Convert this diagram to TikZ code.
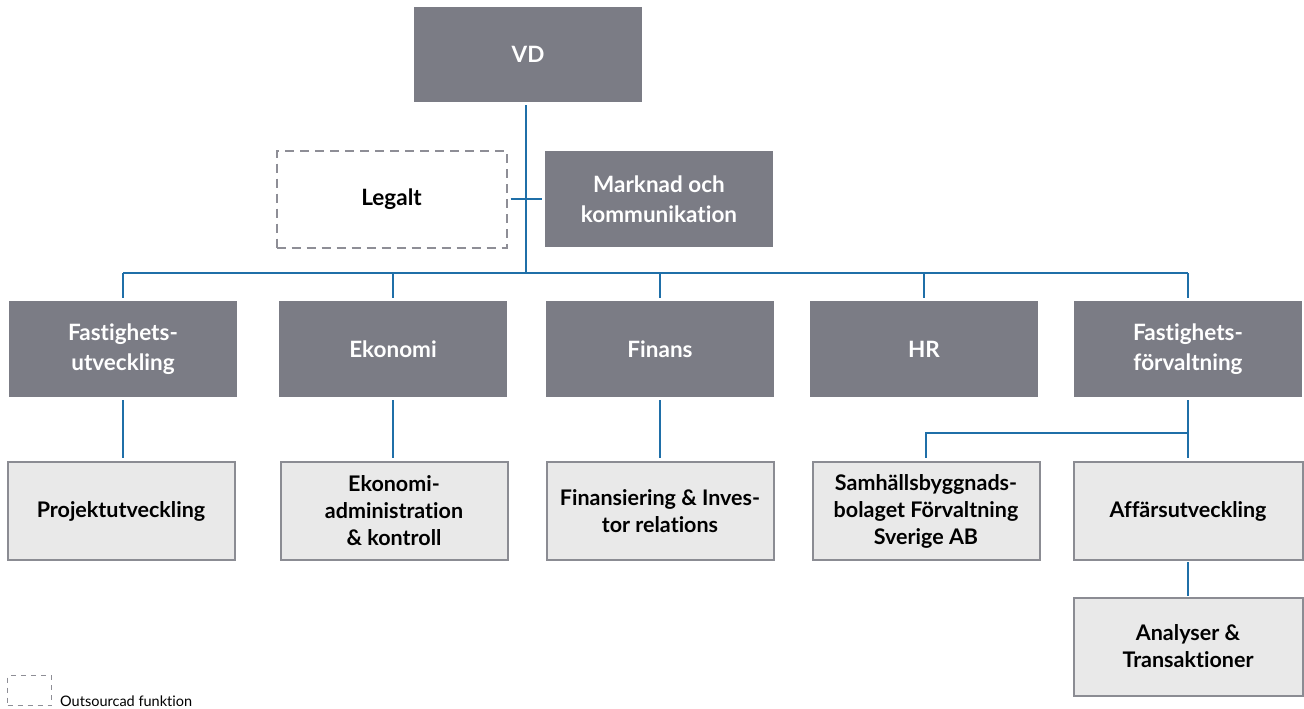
\documentclass[tikz,border=0pt]{standalone}
\usepackage{fontspec}
\setmainfont{Lato}[Ligatures=NoCommon]
\definecolor{boxgray}{HTML}{7B7C85}
\definecolor{lightfill}{HTML}{E9E9E9}
\definecolor{bordergray}{HTML}{8B8C93}
\definecolor{linkblue}{HTML}{1F6FA8}
\definecolor{dashgray}{HTML}{8E8E96}
\tikzset{
  unit/.style={fill=boxgray, text=white, align=center, inner sep=0pt,
    minimum width=228pt, minimum height=96pt,
    font=\bfseries\fontsize{22.5}{30}\selectfont},
  subunit/.style={fill=lightfill, draw=bordergray, line width=2pt, text=black,
    align=center, inner sep=0pt, minimum width=227pt, minimum height=98pt,
    font=\bfseries\fontsize{21.5}{27}\selectfont},
  outsourced/.style={draw=dashgray, line width=2pt, dash pattern=on 9pt off 6pt,
    align=center, inner sep=0pt, minimum width=230pt, minimum height=97pt,
    font=\bfseries\fontsize{22.5}{30}\selectfont},
  conn/.style={draw=linkblue, line width=2pt},
}
\begin{document}
\begin{tikzpicture}[x=1pt, y=-1pt]
\useasboundingbox (0,0) rectangle (1304,709);

% top level
\node[unit, minimum height=95pt] (vd) at (528,54.5) {VD};
\node[outsourced] (legal) at (391.5,199) {Legalt};
\node[unit] (mk) at (659,199) {Marknad och\\kommunikation};

% departments
\node[unit] (fu) at (123,349) {Fastighets-\\utveckling};
\node[unit] (ek) at (393,349) {Ekonomi};
\node[unit] (fi) at (660,349) {Finans};
\node[unit] (hr) at (924,349) {HR};
\node[unit] (ff) at (1188,349) {Fastighets-\\förvaltning};

% sub-units
\node[subunit] (pu) at (121,511) {Projektutveckling};
\node[subunit] (ea) at (394,511) {Ekonomi-\\administration\\\& kontroll};
\node[subunit] (fr) at (660,511) {Finansiering \& Inves-\\tor relations};
\node[subunit] (sb) at (926,511) {Samhällsbyggnads-\\bolaget Förvaltning\\Sverige AB};
\node[subunit, minimum width=229pt] (au) at (1188,511) {Affärsutveckling};
\node[subunit, minimum width=229pt] (at) at (1188,646.5) {Analyser \&\\Transaktioner};

% legend
\node[draw=dashgray, line width=1.4pt, dash pattern=on 5pt off 5pt,
      minimum width=44pt, minimum height=30pt, inner sep=0pt] (lg) at (29.5,690.5) {};
\node[anchor=base west, inner sep=0pt, font=\fontsize{14.5}{16}\selectfont] (lgt) at (60,706) {Outsourcad funktion};

% connectors
\coordinate (busL) at (123,273);
\coordinate (busR) at (1188,273);
\coordinate (split) at (1188,433);
\draw[conn] (busL) -- (busR);
\draw[conn, shorten <=3pt] ([xshift=-2pt]vd.south) -- ([xshift=-2pt]vd.south |- busL);
\draw[conn, shorten <=3pt, shorten >=3pt] (legal.east) -- (mk.west);
\foreach \d in {fu,ek,fi,hr,ff}
  \draw[conn, shorten >=3pt] (\d.north |- busL) -- (\d.north);
\draw[conn, shorten <=3pt, shorten >=3pt] (fu.south) -- (fu.south |- pu.north);
\draw[conn, shorten <=3pt, shorten >=3pt] (ek.south) -- (ek.south |- ea.north);
\draw[conn, shorten <=3pt, shorten >=3pt] (fi.south) -- (fi.south |- fr.north);
\draw[conn, shorten <=3pt, shorten >=3pt] (ff.south) -- (au.north);
\draw[conn, shorten >=3pt] (split) -- (split -| sb.north) -- (sb.north);
\draw[conn, shorten <=1pt, shorten >=1pt] (au.south) -- (at.north);
\end{tikzpicture}
\end{document}
